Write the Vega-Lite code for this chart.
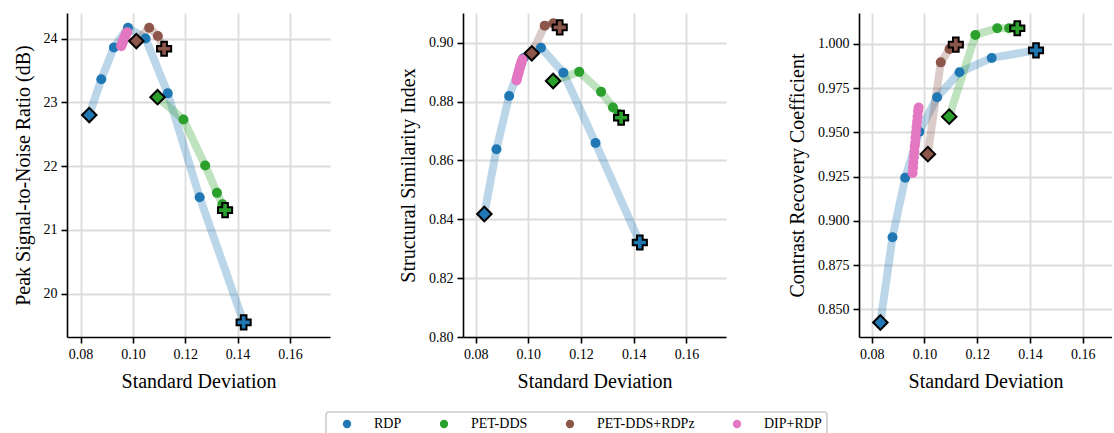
{
  "$schema": "https://vega.github.io/schema/vega-lite/v6.json",
  "padding": {"left": 13, "top": 13, "right": 0, "bottom": 0},
  "background": "white",
  "spacing": 133,
  "bounds": "flush",
  "datasets": {
    "d": [
      {"method": "RDP", "i": 0, "sd": 0.0833, "psnr": 22.80, "ssim": 0.8418, "crc": 0.8425, "m": "start"},
      {"method": "RDP", "i": 1, "sd": 0.0879, "psnr": 23.36, "ssim": 0.8638, "crc": 0.8907, "m": "mid"},
      {"method": "RDP", "i": 2, "sd": 0.0927, "psnr": 23.86, "ssim": 0.8819, "crc": 0.9243, "m": "mid"},
      {"method": "RDP", "i": 3, "sd": 0.0981, "psnr": 24.17, "ssim": 0.8947, "crc": 0.9504, "m": "mid"},
      {"method": "RDP", "i": 4, "sd": 0.1048, "psnr": 24.00, "ssim": 0.8983, "crc": 0.9699, "m": "mid"},
      {"method": "RDP", "i": 5, "sd": 0.1133, "psnr": 23.14, "ssim": 0.8898, "crc": 0.9840, "m": "mid"},
      {"method": "RDP", "i": 6, "sd": 0.1255, "psnr": 21.51, "ssim": 0.8659, "crc": 0.9921, "m": "mid"},
      {"method": "RDP", "i": 7, "sd": 0.1423, "psnr": 19.55, "ssim": 0.8321, "crc": 0.9964, "m": "end"},
      {"method": "PET-DDS", "i": 0, "sd": 0.1094, "psnr": 23.08, "ssim": 0.8870, "crc": 0.9589, "m": "start"},
      {"method": "PET-DDS", "i": 1, "sd": 0.1193, "psnr": 22.73, "ssim": 0.8901, "crc": 1.0051, "m": "mid"},
      {"method": "PET-DDS", "i": 2, "sd": 0.1276, "psnr": 22.01, "ssim": 0.8833, "crc": 1.0089, "m": "mid"},
      {"method": "PET-DDS", "i": 3, "sd": 0.1321, "psnr": 21.58, "ssim": 0.8780, "crc": 1.0089, "m": "mid"},
      {"method": "PET-DDS", "i": 4, "sd": 0.1342, "psnr": 21.40, "ssim": 0.8758, "crc": 1.0090, "m": "mid"},
      {"method": "PET-DDS", "i": 5, "sd": 0.1352, "psnr": 21.31, "ssim": 0.8745, "crc": 1.0089, "m": "end"},
      {"method": "PET-DDS+RDPz", "i": 0, "sd": 0.1013, "psnr": 23.96, "ssim": 0.8964, "crc": 0.9377, "m": "start"},
      {"method": "PET-DDS+RDPz", "i": 1, "sd": 0.1062, "psnr": 24.17, "ssim": 0.9058, "crc": 0.9896, "m": "mid"},
      {"method": "PET-DDS+RDPz", "i": 2, "sd": 0.1095, "psnr": 24.04, "ssim": 0.9066, "crc": 0.9971, "m": "mid"},
      {"method": "PET-DDS+RDPz", "i": 3, "sd": 0.1119, "psnr": 23.84, "ssim": 0.9052, "crc": 0.9996, "m": "end"},
      {"method": "DIP+RDP", "i": 0, "sd": 0.0955, "psnr": 23.88, "ssim": 0.8872, "crc": 0.9270, "m": "mid"},
      {"method": "DIP+RDP", "i": 1, "sd": 0.0957, "psnr": 23.90, "ssim": 0.8878, "crc": 0.9300, "m": "mid"},
      {"method": "DIP+RDP", "i": 2, "sd": 0.0958, "psnr": 23.92, "ssim": 0.8884, "crc": 0.9330, "m": "mid"},
      {"method": "DIP+RDP", "i": 3, "sd": 0.0960, "psnr": 23.94, "ssim": 0.8890, "crc": 0.9360, "m": "mid"},
      {"method": "DIP+RDP", "i": 4, "sd": 0.0962, "psnr": 23.95, "ssim": 0.8895, "crc": 0.9390, "m": "mid"},
      {"method": "DIP+RDP", "i": 5, "sd": 0.0963, "psnr": 23.97, "ssim": 0.8900, "crc": 0.9420, "m": "mid"},
      {"method": "DIP+RDP", "i": 6, "sd": 0.0965, "psnr": 23.99, "ssim": 0.8906, "crc": 0.9440, "m": "mid"},
      {"method": "DIP+RDP", "i": 7, "sd": 0.0966, "psnr": 24.00, "ssim": 0.8911, "crc": 0.9470, "m": "mid"},
      {"method": "DIP+RDP", "i": 8, "sd": 0.0968, "psnr": 24.02, "ssim": 0.8917, "crc": 0.9500, "m": "mid"},
      {"method": "DIP+RDP", "i": 9, "sd": 0.0970, "psnr": 24.04, "ssim": 0.8923, "crc": 0.9530, "m": "mid"},
      {"method": "DIP+RDP", "i": 10, "sd": 0.0972, "psnr": 24.05, "ssim": 0.8928, "crc": 0.9560, "m": "mid"},
      {"method": "DIP+RDP", "i": 11, "sd": 0.0974, "psnr": 24.07, "ssim": 0.8934, "crc": 0.9590, "m": "mid"},
      {"method": "DIP+RDP", "i": 12, "sd": 0.0976, "psnr": 24.09, "ssim": 0.8939, "crc": 0.9620, "m": "mid"},
      {"method": "DIP+RDP", "i": 13, "sd": 0.0978, "psnr": 24.10, "ssim": 0.8944, "crc": 0.9640, "m": "mid"}
    ]
  },
  "hconcat": [
    {
      "width": 263, "height": 324,
      "data": {"name": "d"},
      "encoding": {
        "x": {"field": "sd", "type": "quantitative", "title": "Standard Deviation",
              "scale": {"domain": [0.0748, 0.1753], "nice": false, "zero": false},
              "axis": {"values": [0.08, 0.10, 0.12, 0.14, 0.16], "format": ".2f"}},
        "y": {"field": "psnr", "type": "quantitative", "title": "Peak Signal-to-Noise Ratio (dB)",
              "scale": {"domain": [19.32, 24.40], "nice": false, "zero": false},
              "axis": {"values": [20, 21, 22, 23, 24], "format": "d"}},
        "color": {"field": "method", "type": "nominal", "title": null,
                  "scale": {"domain": ["RDP", "PET-DDS", "PET-DDS+RDPz", "DIP+RDP"], "range": ["#1f77b4", "#2ca02c", "#8c564b", "#e377c2"]}}
      },
      "layer": [
        {"mark": {"type": "line", "strokeWidth": 8, "opacity": 0.3, "strokeCap": "round", "strokeJoin": "round"},
         "encoding": {"order": {"field": "i", "type": "quantitative"}}},
        {"transform": [{"filter": "datum.m == 'mid'"}],
         "mark": {"type": "point", "filled": true, "size": 100, "opacity": 1, "strokeWidth": 0}},
        {"transform": [{"filter": "datum.m == 'start'"}],
         "mark": {"type": "point", "shape": "diamond", "filled": true, "size": 210, "opacity": 1, "stroke": "black", "strokeWidth": 2}},
        {"transform": [{"filter": "datum.m == 'end'"}],
         "mark": {"type": "point", "shape": "cross", "filled": true, "size": 200, "opacity": 1, "stroke": "black", "strokeWidth": 2}}
      ]
    },
    {
      "width": 263, "height": 324,
      "data": {"name": "d"},
      "encoding": {
        "x": {"field": "sd", "type": "quantitative", "title": "Standard Deviation",
              "scale": {"domain": [0.0752, 0.1750], "nice": false, "zero": false},
              "axis": {"values": [0.08, 0.10, 0.12, 0.14, 0.16], "format": ".2f"}},
        "y": {"field": "ssim", "type": "quantitative", "title": "Structural Similarity Index",
              "scale": {"domain": [0.80, 0.9101], "nice": false, "zero": false},
              "axis": {"values": [0.80, 0.82, 0.84, 0.86, 0.88, 0.90], "format": ".2f"}},
        "color": {"field": "method", "type": "nominal", "title": null,
                  "scale": {"domain": ["RDP", "PET-DDS", "PET-DDS+RDPz", "DIP+RDP"], "range": ["#1f77b4", "#2ca02c", "#8c564b", "#e377c2"]}}
      },
      "layer": [
        {"mark": {"type": "line", "strokeWidth": 8, "opacity": 0.3, "strokeCap": "round", "strokeJoin": "round"},
         "encoding": {"order": {"field": "i", "type": "quantitative"}}},
        {"transform": [{"filter": "datum.m == 'mid'"}],
         "mark": {"type": "point", "filled": true, "size": 100, "opacity": 1, "strokeWidth": 0}},
        {"transform": [{"filter": "datum.m == 'start'"}],
         "mark": {"type": "point", "shape": "diamond", "filled": true, "size": 210, "opacity": 1, "stroke": "black", "strokeWidth": 2}},
        {"transform": [{"filter": "datum.m == 'end'"}],
         "mark": {"type": "point", "shape": "cross", "filled": true, "size": 200, "opacity": 1, "stroke": "black", "strokeWidth": 2}}
      ]
    },
    {
      "width": 253, "height": 324,
      "data": {"name": "d"},
      "encoding": {
        "x": {"field": "sd", "type": "quantitative", "title": "Standard Deviation",
              "scale": {"domain": [0.0752, 0.1711], "nice": false, "zero": false},
              "axis": {"values": [0.08, 0.10, 0.12, 0.14, 0.16], "format": ".2f"}},
        "y": {"field": "crc", "type": "quantitative", "title": "Contrast Recovery Coefficient",
              "scale": {"domain": [0.8343, 1.0175], "nice": false, "zero": false},
              "axis": {"values": [0.850, 0.875, 0.900, 0.925, 0.950, 0.975, 1.000], "format": ".3f"}},
        "color": {"field": "method", "type": "nominal", "title": null,
                  "scale": {"domain": ["RDP", "PET-DDS", "PET-DDS+RDPz", "DIP+RDP"], "range": ["#1f77b4", "#2ca02c", "#8c564b", "#e377c2"]}}
      },
      "layer": [
        {"mark": {"type": "line", "strokeWidth": 8, "opacity": 0.3, "strokeCap": "round", "strokeJoin": "round"},
         "encoding": {"order": {"field": "i", "type": "quantitative"}}},
        {"transform": [{"filter": "datum.m == 'mid'"}],
         "mark": {"type": "point", "filled": true, "size": 100, "opacity": 1, "strokeWidth": 0}},
        {"transform": [{"filter": "datum.m == 'start'"}],
         "mark": {"type": "point", "shape": "diamond", "filled": true, "size": 210, "opacity": 1, "stroke": "black", "strokeWidth": 2}},
        {"transform": [{"filter": "datum.m == 'end'"}],
         "mark": {"type": "point", "shape": "cross", "filled": true, "size": 200, "opacity": 1, "stroke": "black", "strokeWidth": 2}}
      ]
    }
  ],
  "resolve": {"scale": {"color": "shared"}},
  "config": {
    "view": {"stroke": null},
    "font": "Liberation Serif",
    "axis": {
      "labelFont": "Liberation Serif", "labelFontSize": 14, "labelColor": "black", "labelPadding": 4,
      "titleFont": "Liberation Serif", "titleFontSize": 20, "titleFontWeight": "normal", "titleColor": "black",
      "domainColor": "black", "domainWidth": 1.6, "tickColor": "black", "tickWidth": 1.6, "tickSize": 6,
      "gridColor": "#dcdcdc", "gridWidth": 1.8, "grid": true
    },
    "axisX": {"titlePadding": 10},
    "axisY": {"titlePadding": 10},
    "legend": {
      "orient": "none", "legendX": 259, "legendY": 399, "direction": "horizontal", "columns": 4,
      "symbolType": "circle", "symbolSize": 70, "symbolOpacity": 1, "symbolStrokeWidth": 0,
      "labelFont": "Liberation Serif", "labelFontSize": 14, "labelColor": "black",
      "labelOffset": 20, "columnPadding": 26, "symbolOffset": 9,
      "padding": 5, "strokeColor": "#cccccc", "strokeWidth": 1.5, "cornerRadius": 3, "fillColor": "white"
    }
  }
}
